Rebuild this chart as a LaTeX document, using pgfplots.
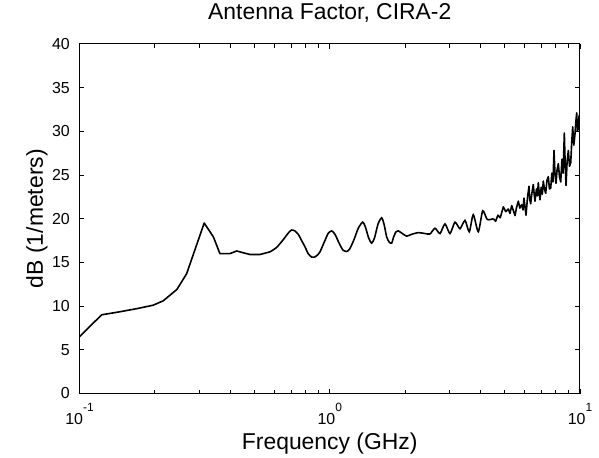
\documentclass[border=0pt]{standalone}
\usepackage{fontspec}
\setmainfont{Liberation Sans}
\usepackage{pgfplots}
\pgfplotsset{compat=1.18}
\newcommand{\tenpow}[1]{10\raisebox{13bp}{\fontsize{12}{12}\selectfont #1}}
\begin{document}
\begin{tikzpicture}
\begin{axis}[
  scale only axis, width=500.5bp, height=349.7bp,
  at={(0,0)}, anchor=south west,
  xmode=log, log basis x=10,
  xmin=0.1, xmax=10, ymin=0, ymax=40,
  xtick={0.1,1,10},
  xticklabels={\tenpow{-1},\tenpow{0},\tenpow{1}},
  minor xtick={0.2,0.3,0.4,0.5,0.6,0.7,0.8,0.9,2,3,4,5,6,7,8,9},
  ytick={0,5,10,15,20,25,30,35,40},
  /pgf/number format/assume math mode=true,
  tick label style={font=\fontsize{16}{16}\selectfont},
  xticklabel style={anchor=base, yshift=-31bp, inner sep=0pt},
  yticklabel style={anchor=east, xshift=-9.5bp, inner sep=0pt},
  major tick length=5bp, minor tick length=4bp,
  tick style={black, line width=0.7bp},
  axis line style={line width=1bp},
  title={Antenna Factor, CIRA-2},
  title style={font=\fontsize{23}{23}\selectfont, anchor=base, inner sep=0pt, at={([yshift=18bp]axis description cs:0.5,1)}},
  xlabel={Frequency (GHz)},
  xlabel style={font=\fontsize{23}{23}\selectfont, anchor=base, inner sep=0pt, at={([yshift=-56bp]axis description cs:0.5,0)}},
  ylabel={dB (1/meters)},
  ylabel style={font=\fontsize{23}{23}\selectfont, anchor=base, inner sep=0pt, rotate=0, at={([xshift=-36.5bp]axis description cs:0,0.5)}},
]
% low-frequency part (sparse samples, straight segments)
\addplot[black, line width=1.6bp, line join=round] coordinates {
(0.1,6.5) (0.1226,9.0) (0.145,9.35) (0.169,9.7) (0.197,10.1) (0.216,10.6)
(0.245,11.9) (0.268,13.7) (0.315,19.5) (0.343,17.9) (0.364,16.0) (0.399,16.0)
(0.425,16.3) (0.451,16.1) (0.48,15.9) (0.526,15.9) (0.577,16.2)
};
% mid part (smooth ripples)
\addplot[black, line width=1.6bp, smooth, tension=0.4] coordinates {
(0.577,16.2) (0.613,16.7)
(0.652,17.6) (0.685,18.4) (0.704,18.7) (0.725,18.6) (0.749,18.2) (0.775,17.4)
(0.796,16.8) (0.82,16.0) (0.847,15.6) (0.87,15.6) (0.89,15.8) (0.914,16.2)
(0.95,17.3) (0.985,18.3) (1.018,18.6) (1.05,18.2) (1.09,17.2) (1.13,16.4)
(1.168,16.25) (1.2,16.5) (1.25,17.6) (1.3,18.9) (1.354,19.6) (1.39,19.0)
(1.43,17.8) (1.471,17.2) (1.51,17.8) (1.56,19.4) (1.613,20.1) (1.65,19.3)
(1.689,17.9) (1.73,17.3) (1.768,17.2) (1.8,17.9) (1.84,18.5) (1.879,18.6)
(1.95,18.3) (2.03,18.0) (2.12,18.2) (2.259,18.4) (2.4,18.3) (2.515,18.25)
(2.634,18.9) (2.758,18.3) (2.887,19.4) (3.023,18.3) (3.166,19.6) (3.315,18.85)
(3.471,19.8) (3.611,18.5) (3.746,20.45) (3.923,18.5) (4.086,20.9) (4.262,19.9)
(4.504,20.0)
};
% high-frequency part (dense ripples)
\addplot[black, line width=1.6bp, line join=round] coordinates {
(4.504,20.0) (4.60,19.7) (4.70,20.4) (4.80,20.1) (4.94,21.35) (5.05,20.8)
(5.17,21.1) (5.25,20.6) (5.335,21.5) (5.42,20.9) (5.50,20.35) (5.58,21.3)
(5.67,22.0) (5.75,21.2) (5.848,21.6) (5.92,21.0) (5.974,22.35) (6.03,21.3)
(6.085,20.4) (6.17,22.4) (6.255,23.7) (6.30,22.2) (6.353,21.7) (6.43,23.0)
(6.507,23.9) (6.56,22.8) (6.61,22.0) (6.70,23.4) (6.76,22.6) (6.814,24.1)
(6.87,23.0) (6.922,22.15) (7.00,23.6) (7.07,22.8) (7.135,24.3) (7.21,23.4)
(7.295,22.9) (7.38,24.4) (7.472,24.8) (7.55,23.4) (7.639,23.5) (7.72,25.2)
(7.80,24.2) (7.875,27.8) (7.95,25.0) (8.021,24.05) (8.10,25.6) (8.193,26.3)
(8.28,24.8) (8.376,24.2) (8.47,26.8) (8.56,25.2) (8.658,29.8) (8.73,26.0)
(8.795,23.8) (8.88,26.5) (8.983,27.8) (9.08,26.0) (9.183,26.4) (9.27,28.8)
(9.351,30.5) (9.45,28.4) (9.55,29.7) (9.62,31.0) (9.701,32.1) (9.77,30.0)
(9.845,30.3) (9.92,31.8) (10,31.5)
};
\end{axis}
\path (-79.5bp,-64.5bp) rectangle (519.5bp,393.5bp);
\end{tikzpicture}
\end{document}
